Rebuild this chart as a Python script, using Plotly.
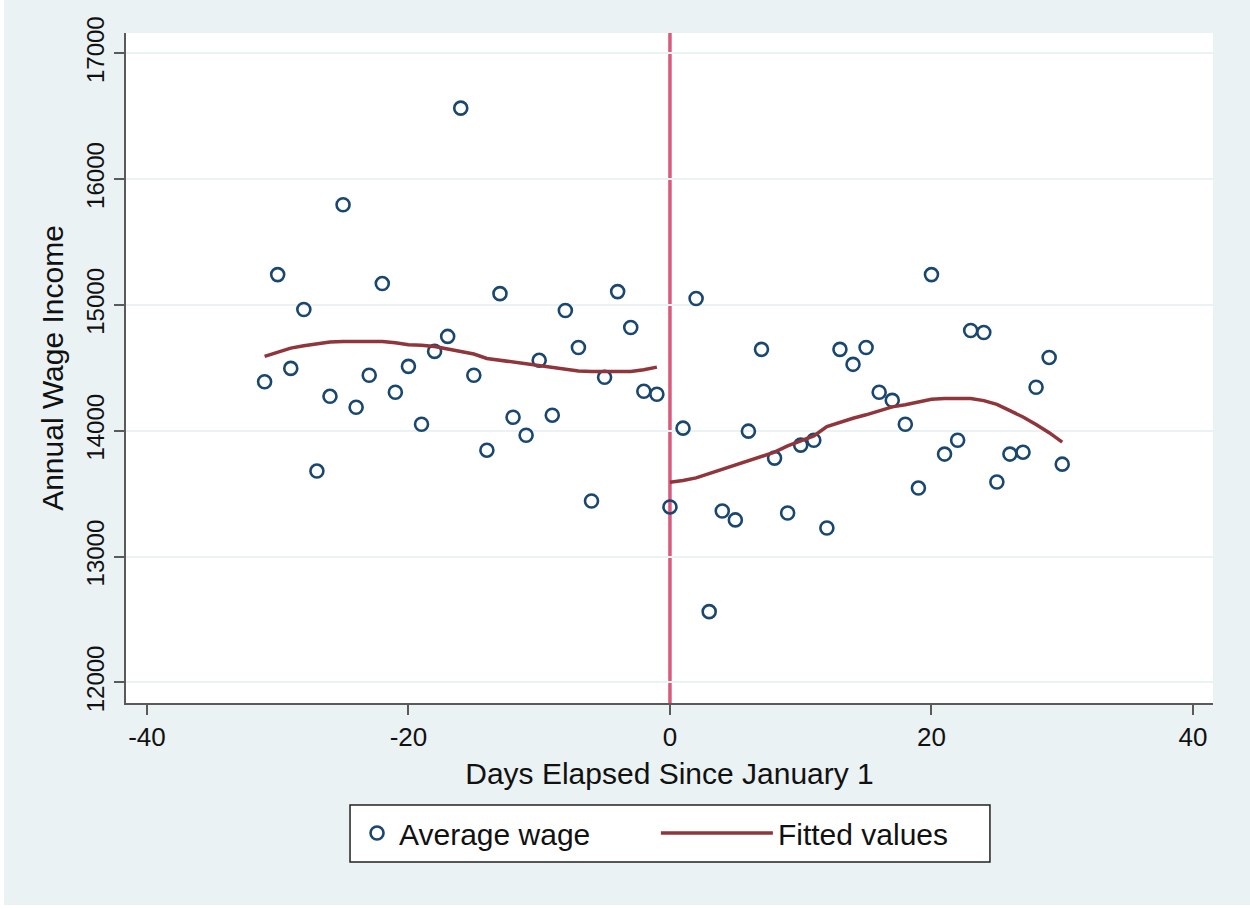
import plotly.graph_objects as go

# ---- data ----
days = list(range(-31, 31))
avg_wage = [
    14390, 15241, 14496, 14964, 13680, 14274, 15796, 14187, 14441, 15170,
    14306, 14512, 14052, 14631, 14750, 16564, 14441, 13846, 15090, 14108,
    13965, 14560, 14124, 14956, 14662, 13442, 14425, 15106, 14821, 14314,
    14290,
    13395, 14021, 15051, 12563, 13363, 13292, 13997, 14647, 13783, 13347,
    13886, 13925, 13228, 14647, 14528, 14662, 14306, 14242, 14052, 13545,
    15241, 13815, 13925, 14797, 14781, 13593, 13815, 13830, 14346, 14583,
    13735,
]

days_left = list(range(-31, 0))
fit_left = [
    14591, 14625, 14657, 14675, 14690, 14705, 14710, 14710, 14710, 14710,
    14700, 14684, 14680, 14670, 14650, 14630, 14610, 14575, 14560, 14545,
    14530, 14515, 14505, 14490, 14475, 14471, 14471, 14471, 14471, 14485,
    14506,
]
days_right = list(range(0, 31))
fit_right = [
    13592, 13605, 13626, 13660, 13695, 13725, 13756, 13795, 13830, 13880,
    13923, 13960, 14034, 14070, 14100, 14127, 14160, 14190, 14207, 14230,
    14250, 14257, 14257, 14257, 14240, 14210, 14160, 14110, 14050, 13985,
    13910,
]

x_ticks = [-40, -20, 0, 20, 40]
y_ticks = [12000, 13000, 14000, 15000, 16000, 17000]
cutoff = 0

NAVY = "#1a476f"
MAROON = "#90353b"
BG = "#eaf2f3"
AXIS = "#5a5a5a"
TXT = "#111111"
FONT = "Liberation Sans, Arial, sans-serif"

fig = go.Figure()
fig.add_trace(go.Scatter(
    x=days, y=avg_wage, mode="markers", name="Average wage",
    marker=dict(symbol="circle-open", size=13, color=NAVY, line=dict(width=2.6, color=NAVY)),
    legend="legend",
))
fig.add_trace(go.Scatter(
    x=days_left, y=fit_left, mode="lines", name="Fitted values",
    line=dict(color=MAROON, width=3.5), legendgroup="fit", legend="legend2",
))
fig.add_trace(go.Scatter(
    x=days_right, y=fit_right, mode="lines", name="Fitted values",
    line=dict(color=MAROON, width=3.5), legendgroup="fit", showlegend=False, legend="legend2",
))

# cutoff line
fig.add_shape(type="line", x0=cutoff, x1=cutoff, xref="x", y0=0, y1=1, yref="y domain",
              line=dict(color="#d95a7d", width=3.5), layer="below")
# legend frame
fig.add_shape(type="rect", xref="paper", yref="paper",
              x0=0.2061, x1=0.7948, y0=-0.2373, y1=-0.1522,
              fillcolor="white", line=dict(color="#222222", width=1.5), layer="below")

legend_common = dict(
    orientation="h", yanchor="middle", y=-0.194, xanchor="left",
    bgcolor="rgba(0,0,0,0)", borderwidth=0,
    font=dict(size=30, family=FONT, color=TXT),
)

fig.update_layout(
    width=1246, height=905,
    paper_bgcolor=BG, plot_bgcolor="white",
    margin=dict(l=122, r=37, t=33, b=202, autoexpand=False),
    font=dict(family=FONT, color=TXT),
    showlegend=True,
    legend=dict(x=0.2107, itemwidth=34, **legend_common),
    legend2=dict(x=0.4875, itemwidth=112, **legend_common),
)
fig.update_xaxes(
    range=[-41.6, 41.53], tickvals=x_ticks, ticktext=[str(v) for v in x_ticks],
    showgrid=False, zeroline=False,
    showline=True, linecolor=AXIS, linewidth=2,
    ticks="outside", ticklen=10, tickwidth=2, tickcolor=AXIS,
    tickfont=dict(size=26, family=FONT, color=TXT),
    title=dict(text="Days Elapsed Since January 1", font=dict(size=30, family=FONT, color=TXT), standoff=12),
)
fig.update_yaxes(
    range=[11837, 17161], tickvals=y_ticks, ticktext=[str(v) for v in y_ticks],
    showgrid=True, gridcolor=BG, gridwidth=2, zeroline=False,
    showline=True, linecolor=AXIS, linewidth=2,
    ticks="outside", ticklen=10, tickwidth=2, tickcolor=AXIS, tickangle=-90,
    tickfont=dict(size=24, family=FONT, color=TXT),
    title=dict(text="Annual Wage Income", font=dict(size=30, family=FONT, color=TXT), standoff=10),
)

fig.write_html("out.html", post_script="document.body.style.margin='0px 0px 0px 4px';")
